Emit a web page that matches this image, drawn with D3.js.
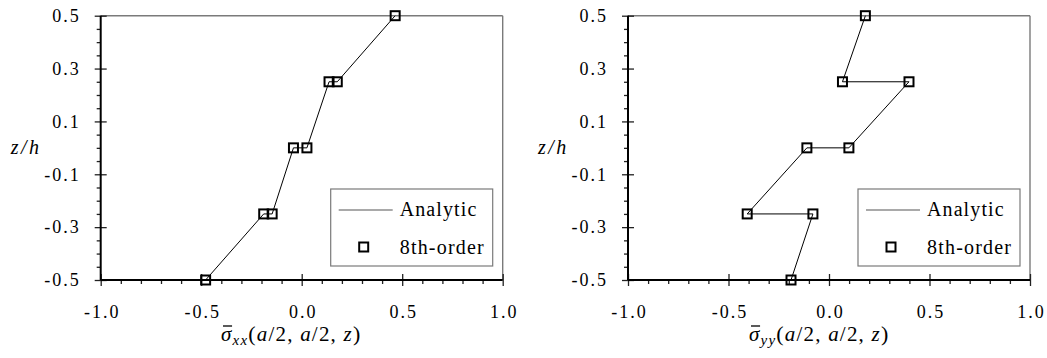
<!DOCTYPE html>
<html>
<head>
<meta charset="utf-8">
<script src="https://cdn.jsdelivr.net/npm/d3@7"></script>
<style>
  html, body { margin: 0; padding: 0; background: #fff; }
  svg { display: block; }
  text { font-family: "Liberation Serif", "Times New Roman", serif; fill: #000; }
</style>
</head>
<body>
<svg id="chart" width="1047" height="358"></svg>
<script>
// Through-thickness stress profiles at (a/2, a/2, z)
const zLevels = [0.5, 0.25, 0.25, 0, 0, -0.25, -0.25, -0.5];
const sigmaXX = [0.465, 0.177, 0.136, 0.026, -0.041, -0.147, -0.189, -0.478];
const sigmaYY = [0.181, 0.067, 0.398, 0.099, -0.110, -0.407, -0.080, -0.189];

const xMajorTicks = [-1.0, -0.5, 0.0, 0.5, 1.0];
const xTickLabels = ["-1.0", "-0.5", "0.0", "0.5", "1.0"];
const yMajorTicks = [0.5, 0.3, 0.1, -0.1, -0.3, -0.5];
const yTickLabels = ["0.5", "0.3", "0.1", "-0.1", "-0.3", "-0.5"];
const legendLabels = ["Analytic", "8th-order"];

const svg = d3.select("#chart");

const xMinorTicks = d3.range(-10, 11).map(d => d / 10).filter(v => !xMajorTicks.some(m => Math.abs(m - v) < 1e-9));
const yMinorTicks = d3.range(-10, 11).map(d => d / 20).filter(v => !yMajorTicks.some(m => Math.abs(m - v) < 1e-9));

function panel(opts) {
  const { left, right, top, bottom, values, sub } = opts;
  const g = svg.append("g");
  const x = d3.scaleLinear().domain([-1, 1]).range([left, right]);
  const y = d3.scaleLinear().domain([-0.5, 0.5]).range([bottom, top]);

  // frame: top and right edges in grey
  g.append("line").attr("x1", left).attr("x2", right).attr("y1", top).attr("y2", top)
    .attr("stroke", "#7a7a7a").attr("stroke-width", 1.4);
  g.append("line").attr("x1", right).attr("x2", right).attr("y1", top).attr("y2", bottom)
    .attr("stroke", "#7a7a7a").attr("stroke-width", 1.4);

  // minor ticks, pointing outward
  g.append("g").attr("transform", `translate(0,${bottom})`)
    .call(d3.axisBottom(x).tickValues(xMinorTicks).tickSize(4).tickFormat(""))
    .call(s => s.select(".domain").remove())
    .selectAll("line").attr("stroke", "#222").attr("stroke-width", 1.3);
  g.append("g").attr("transform", `translate(${left},0)`)
    .call(d3.axisLeft(y).tickValues(yMinorTicks).tickSize(4).tickFormat(""))
    .call(s => s.select(".domain").remove())
    .selectAll("line").attr("stroke", "#222").attr("stroke-width", 1.3);

  // major ticks crossing the axes, with labels
  const xa = g.append("g").attr("transform", `translate(0,${bottom})`)
    .call(d3.axisBottom(x).tickValues(xMajorTicks).tickSize(6).tickPadding(19)
      .tickFormat((d, i) => xTickLabels[i]));
  xa.select(".domain").remove();
  xa.selectAll("line").attr("y1", -6).attr("stroke", "#222").attr("stroke-width", 1.3);
  xa.selectAll("text").attr("font-size", 18).attr("letter-spacing", 2)
    .attr("dx", 1).attr("font-family", "Liberation Serif");

  const ya = g.append("g").attr("transform", `translate(${left},0)`)
    .call(d3.axisLeft(y).tickValues(yMajorTicks).tickSize(6).tickPadding(14)
      .tickFormat((d, i) => yTickLabels[i]));
  ya.select(".domain").remove();
  ya.selectAll("line").attr("x1", 6).attr("stroke", "#222").attr("stroke-width", 1.3);
  ya.selectAll("text").attr("font-size", 18).attr("letter-spacing", 2)
    .attr("font-family", "Liberation Serif");

  // main axes in black
  g.append("line").attr("x1", left).attr("x2", right).attr("y1", bottom).attr("y2", bottom)
    .attr("stroke", "#000").attr("stroke-width", 2);
  g.append("line").attr("x1", left).attr("x2", left).attr("y1", top).attr("y2", bottom)
    .attr("stroke", "#000").attr("stroke-width", 2);

  // analytic profile
  const pts = values.map((v, i) => [v, zLevels[i]]);
  g.append("path").datum(pts)
    .attr("d", d3.line().x(d => x(d[0])).y(d => y(d[1])))
    .attr("fill", "none").attr("stroke", "#000").attr("stroke-width", 1);

  // 8th-order markers
  g.selectAll("rect.mk").data(pts).join("rect").attr("class", "mk")
    .attr("x", d => x(d[0]) - 4.5).attr("y", d => y(d[1]) - 4.5)
    .attr("width", 9).attr("height", 9)
    .attr("fill", "none").attr("stroke", "#000").attr("stroke-width", 2);

  // legend
  const lx = right - 172, ly = bottom - 91;
  const lg = g.append("g").attr("transform", `translate(${lx},${ly})`);
  lg.append("rect").attr("x", 0).attr("y", 0).attr("width", 162).attr("height", 77)
    .attr("fill", "#fff").attr("stroke", "#7a7a7a").attr("stroke-width", 1.2);
  lg.append("line").attr("x1", 8).attr("x2", 62).attr("y1", 21).attr("y2", 21)
    .attr("stroke", "#555").attr("stroke-width", 1.2);
  lg.append("text").attr("x", 69).attr("y", 27).attr("font-size", 20).attr("letter-spacing", 1.1)
    .text(legendLabels[0]);
  lg.append("rect").attr("x", 28.5).attr("y", 53.5).attr("width", 9).attr("height", 9)
    .attr("fill", "none").attr("stroke", "#000").attr("stroke-width", 2);
  lg.append("text").attr("x", 69).attr("y", 65).attr("font-size", 20).attr("letter-spacing", 1.2)
    .text(legendLabels[1]);

  // y title
  g.append("text").attr("x", left - 90).attr("y", (top + bottom) / 2 + 6)
    .attr("font-size", 20).attr("font-style", "italic").attr("letter-spacing", 2.5)
    .text("z/h");

  // x title: sigma-bar with subscript, then (a/2, a/2, z)
  const tx = opts.titleX, ty = 341;
  const t = g.append("text").attr("x", tx).attr("y", ty).attr("font-size", 21).attr("letter-spacing", 1.2);
  t.append("tspan").attr("font-style", "italic").text("σ");
  t.append("tspan").attr("font-style", "italic").attr("font-size", 15).attr("dy", 4).text(sub);
  t.append("tspan").attr("dy", -4).attr("font-size", 22).text("(");
  t.append("tspan").attr("font-style", "italic").text("a");
  t.append("tspan").text("/2, ");
  t.append("tspan").attr("font-style", "italic").text("a");
  t.append("tspan").text("/2, ");
  t.append("tspan").attr("font-style", "italic").text("z");
  t.append("tspan").attr("font-size", 22).text(")");
  const box = t.node().getExtentOfChar(0);
  g.append("line").attr("x1", box.x + 2).attr("x2", box.x + box.width - 0.5)
    .attr("y1", ty - 15).attr("y2", ty - 15).attr("stroke", "#000").attr("stroke-width", 1.3);
}

panel({ left: 100.7, right: 502.7, top: 15.7, bottom: 280, values: sigmaXX, sub: "xx", titleX: 221 });
panel({ left: 628, right: 1030, top: 15.7, bottom: 280, values: sigmaYY, sub: "yy", titleX: 749 });
</script>
</body>
</html>
